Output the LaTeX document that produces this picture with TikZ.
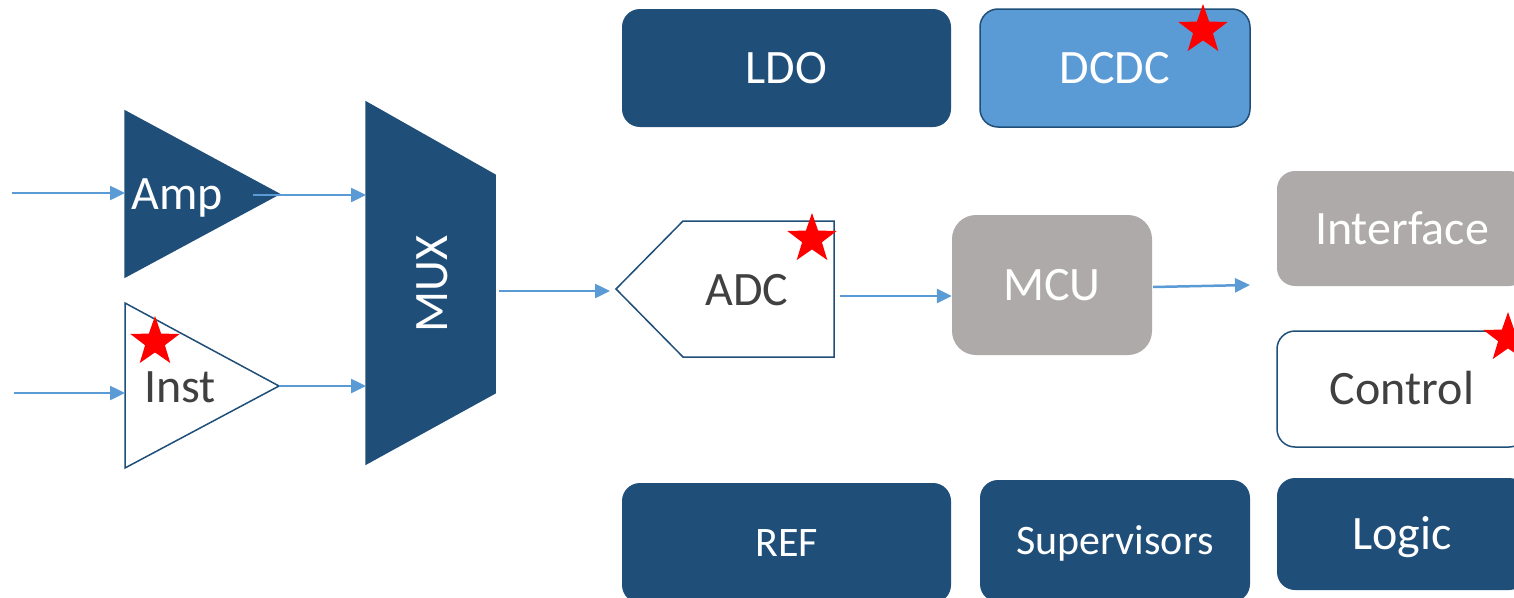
\documentclass[tikz,border=0pt]{standalone}
\usepackage{fontspec}
\setmainfont{Carlito}
\usepackage{tikz}
\usetikzlibrary{arrows.meta,shapes.geometric}

\definecolor{dblue}{HTML}{1F4E79}
\definecolor{lblue}{HTML}{5B9BD5}
\definecolor{mgray}{HTML}{AEAAAA}
\definecolor{dtext}{HTML}{404040}

\tikzset{
    block/.style={rounded corners=18pt, inner sep=0pt, text height=31pt,
        text depth=0pt, font=\fontsize{48}{48}\selectfont},
    smallblock/.style={block, text height=27pt, font=\fontsize{42}{42}\selectfont},
    darkbox/.style={fill=dblue, text=white},
    lightbox/.style={fill=lblue, draw=dblue, line width=1.5pt, text=white},
    graybox/.style={fill=mgray, text=white},
    openbox/.style={fill=white, draw=dblue, line width=1.5pt, text=dtext},
    label/.style={inner sep=0pt, text height=31pt, text depth=0pt,
        font=\fontsize{48}{48}\selectfont},
    sig/.style={draw=lblue, line width=2.5pt, -{Triangle[length=15pt,width=14pt]}},
    redstar/.style={star, star points=5, star point ratio=2.5, minimum size=52pt,
        inner sep=0pt, fill=red}
}

\begin{document}
\begin{tikzpicture}[x=1pt,y=-1pt]
    \useasboundingbox (0,0) rectangle (1514,597);
    % power blocks
    \node[block, darkbox, minimum width=329pt, minimum height=118pt] (ldo) at (786.5,68) {LDO};
    \node[block, lightbox, minimum width=270pt, minimum height=118pt] (dcdc) at (1115,68) {DCDC};
    % front end
    \draw[fill=dblue, draw=dblue, line width=1.5pt] (125,111) -- (279,194) coordinate (amp-tip)
        -- (125,277) -- cycle;
    \node[label, text=white] (amp) at (177,194) {Amp};
    \draw[fill=white, draw=dblue, line width=1.5pt] (125,303) -- (279,386) coordinate (inst-tip)
        -- (125,468) -- cycle;
    \node[label, text=dtext] (inst) at (180,387) {Inst};
    \draw[fill=dblue, draw=dblue, line width=1.5pt] (366,102) -- (495,175) -- (495,393)
        -- (366,464) -- cycle;
    \node[label, text=white, rotate=90] (mux) at (432,284) {MUX};
    \draw[fill=white, draw=dblue, line width=1.5pt] (616,289) -- (683,221) -- (834,221)
        -- (834,357) -- (683,357) -- cycle;
    \node[label, text=dtext] (adc) at (747,290) {ADC};
    % digital blocks
    \node[block, graybox, rounded corners=24pt, minimum width=200pt, minimum height=140pt] (mcu) at (1052,285) {MCU};
    \node[block, graybox, minimum width=250pt, minimum height=115pt] (interface) at (1402,228.5) {Interface};
    \node[block, openbox, minimum width=250pt, minimum height=116pt] (control) at (1402,389) {Control};
    \node[block, darkbox, minimum width=250pt, minimum height=112pt] (logic) at (1402,534) {Logic};
    \node[smallblock, darkbox, minimum width=329pt, minimum height=120pt] (ref) at (786.5,543) {REF};
    \node[smallblock, darkbox, minimum width=270pt, minimum height=122pt] (sup) at (1115,541) {Supervisors};
    % signal path
    \coordinate (in1) at (12,193);
    \coordinate (amp-in) at (125,193);
    \coordinate (in2) at (14,393);
    \coordinate (inst-in) at (125,393);
    \coordinate (amp-out) at (253,195);
    \coordinate (mux-in1) at (366,195);
    \coordinate (mux-in2) at (366,386);
    \coordinate (mux-out) at (499,291);
    \coordinate (adc-in) at (610,291);
    \coordinate (adc-out) at (840,296);
    \coordinate (mcu-out) at (1153,287);
    \coordinate (bus) at (1250,285);
    \draw[sig] (in1) -- (amp-in);
    \draw[sig] (in2) -- (inst-in);
    \draw[sig] (amp-out) -- (mux-in1);
    \draw[sig] (inst-tip) -- (mux-in2);
    \draw[sig] (mux-out) -- (adc-in);
    \draw[sig] (adc-out) -- (mcu.west |- adc-out);
    \draw[sig] (mcu-out) -- (bus);
    % new parts
    \node[redstar] (star-dcdc) at (1203,30) {};
    \node[redstar] (star-adc) at (812,239) {};
    \node[redstar] (star-inst) at (155,342) {};
    \node[redstar] (star-control) at (1508,338) {};
\end{tikzpicture}
\end{document}
